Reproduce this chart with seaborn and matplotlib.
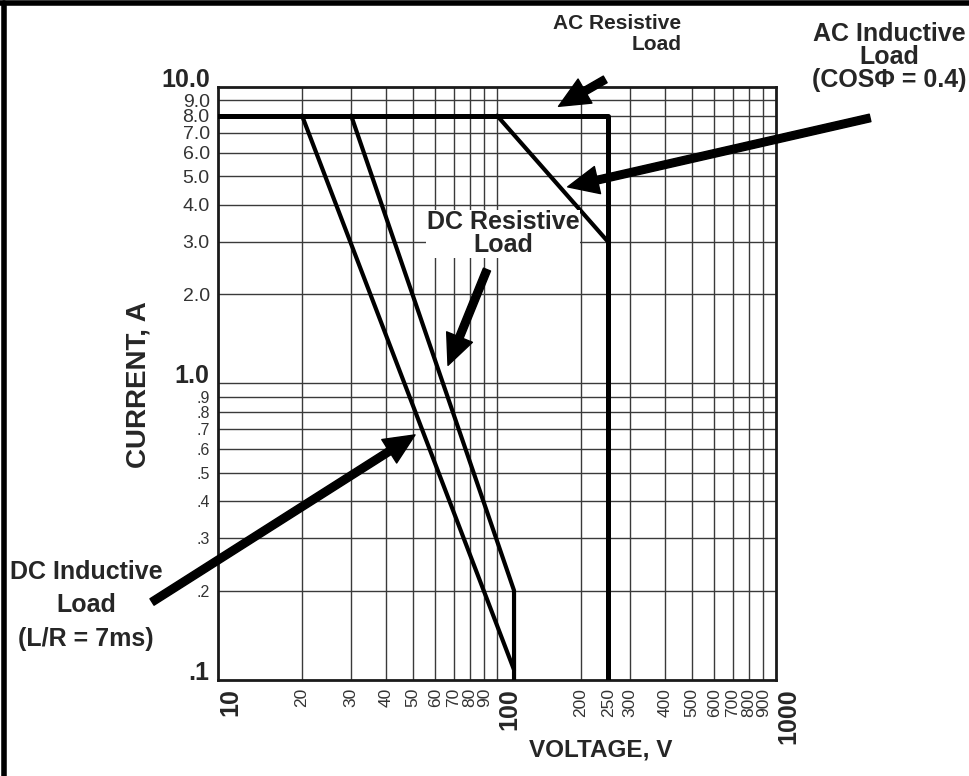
import matplotlib
matplotlib.use("Agg")
import matplotlib.pyplot as plt
import seaborn as sns
from matplotlib.lines import Line2D
from matplotlib.ticker import FixedLocator, NullLocator

# ---- data ----
ac_res_v = [10, 250, 250]
ac_res_i = [8.0, 8.0, 0.1]
ac_ind_v = [100, 250]
ac_ind_i = [8.0, 3.0]
dc_res_v = [30, 115, 115]
dc_res_i = [8.0, 0.2, 0.1]
dc_ind_v = [20, 115]
dc_ind_i = [8.0, 0.108]

x_ticks = [10, 20, 30, 40, 50, 60, 70, 80, 90, 100, 200, 250, 300, 400, 500, 600, 700, 800, 900, 1000]
x_labels = ["10", "20", "30", "40", "50", "60", "70", "80", "90", "100", "200", "250", "300", "400",
            "500", "600", "700", "800", "900", "1000"]
x_grid = [20, 30, 40, 50, 60, 70, 80, 90, 100, 200, 300, 400, 500, 600, 700, 800, 900]
y_ticks = [0.1, 0.2, 0.3, 0.4, 0.5, 0.6, 0.7, 0.8, 0.9, 1, 2, 3, 4, 5, 6, 7, 8, 9, 10]
y_labels = [".1", ".2", ".3", ".4", ".5", ".6", ".7", ".8", ".9", "1.0", "2.0", "3.0", "4.0", "5.0",
            "6.0", "7.0", "8.0", "9.0", "10.0"]
major_x = ["10", "100", "1000"]
major_y = [".1", "1.0", "10.0"]

sns.set_style("white")
plt.rcParams['font.family'] = ['Liberation Sans', 'DejaVu Sans']

fig = plt.figure(figsize=(9.69, 7.76), dpi=100)
ax = fig.add_axes([0.225, 0.124, 0.576, 0.764])
ax.set_xscale("log")
ax.set_yscale("log")
ax.set_xlim(10, 1000)
ax.set_ylim(0.1, 10)

# grid
for xv in x_grid:
    ax.axvline(xv, color="#3a3a3a", lw=1.0, zorder=1)
for yv in y_ticks[1:-1]:
    ax.axhline(yv, color="#3a3a3a", lw=1.0, zorder=1)

series = [(ac_res_v, ac_res_i, 3.6), (ac_ind_v, ac_ind_i, 3.0),
          (dc_res_v, dc_res_i, 3.0), (dc_ind_v, dc_ind_i, 3.0)]
for vx, vy, w in series:
    sns.lineplot(x=vx, y=vy, sort=False, estimator=None, color="black", lw=w, ax=ax, zorder=3)

ax.xaxis.set_major_locator(FixedLocator(x_ticks))
ax.xaxis.set_minor_locator(NullLocator())
ax.yaxis.set_major_locator(FixedLocator(y_ticks))
ax.yaxis.set_minor_locator(NullLocator())
ax.set_xticklabels(x_labels, rotation=90)
ax.set_yticklabels(y_labels)
ax.tick_params(axis="x", length=0, pad=6)
ax.tick_params(axis="y", length=0, pad=6)
for t in ax.get_xticklabels():
    if t.get_text() in major_x:
        t.set_fontsize(18); t.set_fontweight("bold"); t.set_ha("left")
    else:
        t.set_fontsize(12.5); t.set_color("#333333")
for t in ax.get_yticklabels():
    if t.get_text() in major_y:
        t.set_fontsize(18); t.set_fontweight("bold"); t.set_va("baseline")
    elif t.get_text().startswith("."):
        t.set_fontsize(11.5); t.set_color("#333333")
    else:
        t.set_fontsize(14); t.set_color("#333333")

for s in ax.spines.values():
    s.set_color("#1a1a1a")
    s.set_linewidth(2)
    s.set_visible(True)

fig.text(0.143, 0.504, "CURRENT, A", rotation=90, ha="center", va="center", fontsize=20, fontweight="bold")
fig.text(0.62, 0.034, "VOLTAGE, V", ha="center", va="center", fontsize=17.5, fontweight="bold")

ap = dict(facecolor="black", edgecolor="black", width=5.5, headwidth=20, headlength=22, shrink=0)
tfs = 18
# AC Resistive
ax.annotate("", xy=(166, 8.6), xytext=(244, 10.6), arrowprops=ap, annotation_clip=False, zorder=5)
fig.text(0.703, 0.956, "AC Resistive\nLoad", ha="right", va="center", fontsize=15, fontweight="bold",
         multialignment="right", linespacing=1.1)
# AC Inductive
ax.annotate("", xy=(179, 4.6), xytext=(2170, 7.86), arrowprops=ap, annotation_clip=False, zorder=5)
fig.text(0.918, 0.926, "AC Inductive\nLoad\n(COSΦ = 0.4)", ha="center", va="center", fontsize=tfs,
         fontweight="bold", multialignment="center", linespacing=0.95)
# DC Resistive
ax.annotate("", xy=(66.7, 1.15), xytext=(92, 2.42), arrowprops=ap, annotation_clip=False, zorder=5)
fig.text(0.519, 0.699, "DC Resistive\nLoad", ha="center", va="center", fontsize=tfs, fontweight="bold",
         multialignment="center", linespacing=0.92,
         bbox=dict(facecolor="white", edgecolor="none", pad=0.5), zorder=4)
# DC Inductive
ax.annotate("", xy=(50.8, 0.67), xytext=(5.8, 0.183), arrowprops=ap, annotation_clip=False, zorder=5)
fig.text(0.089, 0.22, "DC Inductive\nLoad\n(L/R = 7ms)", ha="center", va="center", fontsize=tfs,
         fontweight="bold", multialignment="center", linespacing=1.5)

# frame (left and top edges)
fig.add_artist(Line2D([0.0045, 0.0045], [0, 0.996], transform=fig.transFigure, color="black", lw=4))
fig.add_artist(Line2D([0, 1], [0.9955, 0.9955], transform=fig.transFigure, color="black", lw=4))

fig.savefig("out.png", dpi=100)
